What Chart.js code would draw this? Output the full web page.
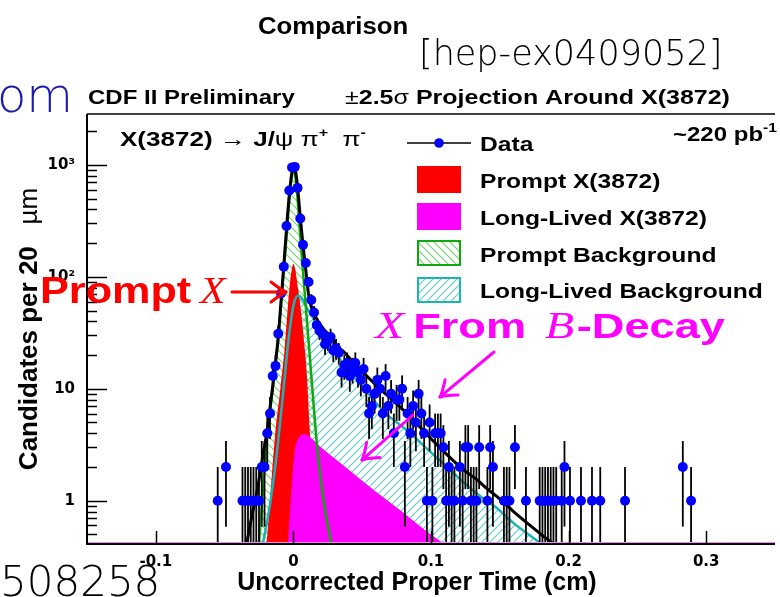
<!DOCTYPE html>
<html>
<head>
<meta charset="utf-8">
<script src="https://cdn.jsdelivr.net/npm/chart.js@4.4.1/dist/chart.umd.min.js"></script>
<style>
html,body{margin:0;padding:0;background:#fff;}
canvas{display:block;}
</style>
</head>
<body>
<canvas id="c" width="780" height="597"></canvas>
<script>
// ---------------- data ----------------
const xTicks = [-0.1, 0, 0.1, 0.2, 0.3];
const yTicks = [1, 10, 100, 1000];
const yTickLabels = ['1', '10', '10\u00B2', '10\u00B3'];

const dataTime = [
  -0.055, -0.049, -0.037, -0.035, -0.033, -0.031, -0.029, -0.027, -0.025, -0.023,
  -0.021, -0.019, -0.017, -0.015, -0.013, -0.011, -0.009, -0.007, -0.005, -0.003,
  -0.001, 0.001, 0.003, 0.005, 0.007, 0.009, 0.011, 0.013, 0.015, 0.017,
  0.019, 0.021, 0.023, 0.025, 0.027, 0.029, 0.031, 0.033, 0.035, 0.037,
  0.039, 0.041, 0.043, 0.045, 0.047, 0.049, 0.051, 0.053, 0.055, 0.057,
  0.059, 0.061, 0.063, 0.065, 0.067, 0.069, 0.071, 0.073, 0.075, 0.077,
  0.079, 0.081, 0.083, 0.085, 0.087, 0.089, 0.091, 0.093, 0.095, 0.097,
  0.099, 0.101, 0.103, 0.105, 0.107, 0.109, 0.111, 0.113, 0.115, 0.117,
  0.121, 0.123, 0.125, 0.127, 0.129, 0.131, 0.133, 0.135, 0.141, 0.143,
  0.145, 0.153, 0.155, 0.157, 0.161, 0.169, 0.179, 0.181, 0.183, 0.185,
  0.187, 0.189, 0.191, 0.195, 0.197, 0.201, 0.209, 0.217, 0.223, 0.241,
  0.283, 0.289
];
const dataCounts = [
  1, 2, 1, 1, 1, 1, 1, 1, 1, 2,
  2, 4, 6, 13, 16, 31, 71, 123, 285, 591,
  950, 960, 623, 332, 193, 133, 90, 62, 48, 37,
  33, 31, 25, 27, 29, 22, 23, 21, 14, 16,
  17, 13, 15, 17, 14, 12, 15, 10, 6, 7,
  9, 12, 10, 6, 13, 7, 9, 4, 8, 8,
  10, 2, 6, 4, 7, 5, 9, 6, 4, 1,
  5, 1, 4, 4, 4, 3, 1, 2, 1, 1,
  2, 1, 3, 3, 1, 1, 1, 3, 1, 3,
  2, 1, 1, 1, 3, 1, 1, 1, 1, 1,
  1, 1, 1, 1, 2, 1, 1, 1, 1, 1,
  2, 1
];

// total fit (black)
const totalT = [-0.040, -0.034, -0.030, -0.026, -0.022, -0.019, -0.016, -0.013, -0.011, -0.009, -0.007, -0.005, -0.003, -0.001, 0.000, 0.001, 0.003, 0.005, 0.007, 0.009, 0.011, 0.013, 0.015, 0.018, 0.022, 0.0274, 0.032, 0.0373, 0.043, 0.049, 0.055, 0.0613, 0.067, 0.0733, 0.079, 0.085, 0.095, 0.105, 0.115, 0.125, 0.1334, 0.140, 0.1478, 0.160, 0.170, 0.180, 0.189, 0.200];
const totalV = [0.15, 0.41, 0.75, 1.3, 2.6, 4.3, 8.5, 17, 29, 60, 125, 270, 540, 880, 1000, 960, 640, 340, 190, 115, 70, 54, 47, 40, 34, 29, 24, 21, 17.5, 14.8, 12.4, 10.4, 9.0, 7.7, 6.6, 5.65, 4.15, 3.1, 2.35, 1.83, 1.54, 1.3, 1.09, 0.8, 0.63, 0.5, 0.41, 0.32];

// prompt background (green)
const promptBgT = [-0.035, -0.0252, -0.022, -0.0192, -0.015, -0.0115, -0.008, -0.005, -0.003, -0.001, 0.000, 0.001, 0.003, 0.005, 0.007, 0.009, 0.011, 0.0135, 0.0168, 0.020, 0.024, 0.0276, 0.035];
const promptBgV = [0.1, 0.41, 1.3, 3.5, 10, 25, 80, 230, 480, 800, 880, 850, 500, 230, 110, 55, 27, 11, 3.5, 1.5, 0.7, 0.41, 0.1];

// long-lived background (cyan)
const llBgT = [-0.030, -0.0216, -0.018, -0.0132, -0.0072, -0.0036, 0.000, 0.0035, 0.007, 0.010, 0.0144, 0.0204, 0.026, 0.0324, 0.040, 0.050, 0.060, 0.070, 0.080, 0.0901, 0.100, 0.110, 0.120, 0.130, 0.140, 0.1478, 0.160, 0.1802, 0.190];
const llBgV = [0.1, 0.45, 0.78, 2.0, 9.8, 27, 55, 68, 62, 52, 42.6, 29, 23.5, 19.4, 14.5, 10.5, 7.5, 5.6, 4.5, 3.5, 2.7, 2.1, 1.6, 1.25, 1.0, 0.86, 0.63, 0.41, 0.32];

// prompt X(3872) (red)
const promptXT = [-0.025, -0.0195, -0.016, -0.0132, -0.0095, -0.0065, -0.003, 0.000, 0.0036, 0.0084, 0.010, 0.012, 0.016, 0.020, 0.025];
const promptXV = [0.1, 0.41, 1.5, 4, 10, 22, 76, 130, 76, 22, 12, 4, 1.2, 0.41, 0.1];

// long-lived X(3872) (magenta)
const llXT = [-0.010, -0.004, -0.001, 0.001, 0.003, 0.006, 0.008, 0.012, 0.020, 0.040, 0.060, 0.080, 0.0996, 0.1096, 0.130];
const llXV = [0.05, 0.41, 1.5, 2.8, 3.5, 3.9, 3.95, 3.7, 3.0, 1.9, 1.2, 0.78, 0.5, 0.41, 0.26];

// ---------------- helpers ----------------
const SANS = '"Liberation Sans", Arial, Helvetica, sans-serif';
const SERIF = '"Liberation Serif", "Times New Roman", serif';
const LIGHT = '"DejaVu Sans", sans-serif';

function pairs(t, v) { return t.map((x, i) => ({x: x, y: v[i]})); }

function hatch(color, dir) {
  const s = 8;
  const c = document.createElement('canvas');
  c.width = s; c.height = s;
  const g = c.getContext('2d');
  g.strokeStyle = color; g.lineWidth = 1.1;
  g.beginPath();
  if (dir > 0) { // "/"
    g.moveTo(0, s); g.lineTo(s, 0);
    g.moveTo(-2, 2); g.lineTo(2, -2);
    g.moveTo(s - 2, s + 2); g.lineTo(s + 2, s - 2);
  } else { // "\"
    g.moveTo(0, 0); g.lineTo(s, s);
    g.moveTo(-2, s - 2); g.lineTo(2, s + 2);
    g.moveTo(s - 2, -2); g.lineTo(s + 2, 2);
  }
  g.stroke();
  return document.getElementById('c').getContext('2d').createPattern(c, 'repeat');
}
const greenHatch = hatch('#6fd46f', -1);
const cyanHatch = hatch('#5ccccc', 1);

function rich(ctx, segs, x, y, sx, align) {
  sx = sx || 1; align = align || 'left';
  ctx.save();
  ctx.textBaseline = 'alphabetic'; ctx.textAlign = 'left';
  let w = 0;
  for (const s of segs) { ctx.font = s.f; w += ctx.measureText(s.t).width + (s.gap || 0); }
  ctx.translate(x, y); ctx.scale(sx, 1);
  let cx = align === 'center' ? -w / 2 : (align === 'right' ? -w : 0);
  for (const s of segs) {
    ctx.font = s.f; ctx.fillStyle = s.c || '#000';
    ctx.fillText(s.t, cx, s.dy || 0);
    cx += ctx.measureText(s.t).width + (s.gap || 0);
  }
  ctx.restore();
}

function arrow(ctx, x1, y1, x2, y2, color, lw) {
  const a = Math.atan2(y2 - y1, x2 - x1);
  const dx = Math.cos(a), dy = Math.sin(a);
  const px = -dy, py = dx;
  ctx.save();
  ctx.strokeStyle = color; ctx.lineWidth = lw; ctx.lineCap = 'round';
  ctx.beginPath(); ctx.moveTo(x1, y1); ctx.lineTo(x2 - dx * 2, y2 - dy * 2); ctx.stroke();
  const L = 15, W = 10;
  for (const sgn of [1, -1]) {
    const bx = x2 - dx * L + px * W * sgn, by = y2 - dy * L + py * W * sgn;
    const cx = x2 - dx * 4 + px * 1.5 * sgn, cy = y2 - dy * 4 + py * 1.5 * sgn;
    ctx.beginPath(); ctx.moveTo(bx, by); ctx.quadraticCurveTo(cx, cy, x2, y2); ctx.stroke();
  }
  ctx.restore();
}

// ---------------- plugins ----------------
const errorBars = {
  id: 'errorBars',
  beforeDatasetDraw(chart, args) {
    if (args.index !== 0) return;
    const ctx = chart.ctx, xs = chart.scales.x, ys = chart.scales.y, a = chart.chartArea;
    ctx.save();
    ctx.beginPath(); ctx.rect(a.left, a.top, a.right - a.left, a.bottom - a.top); ctx.clip();
    ctx.strokeStyle = '#000'; ctx.lineWidth = 1.8;
    for (let i = 0; i < dataTime.length; i++) {
      const n = dataCounts[i], e = Math.sqrt(n);
      const px = xs.getPixelForValue(dataTime[i]);
      const top = ys.getPixelForValue(n + e);
      const bot = (n - e) > 0 ? ys.getPixelForValue(n - e) : a.bottom;
      ctx.beginPath(); ctx.moveTo(px, top); ctx.lineTo(px, bot); ctx.stroke();
    }
    ctx.restore();
  }
};

const decor = {
  id: 'decor',
  afterDraw(chart) {
    const ctx = chart.ctx, a = chart.chartArea, xs = chart.scales.x, ys = chart.scales.y;
    ctx.save();
    // faint pink baseline of the fitted components
    ctx.strokeStyle = '#ff80ff'; ctx.lineWidth = 1;
    ctx.beginPath(); ctx.moveTo(a.left, a.bottom - 1.5); ctx.lineTo(a.right, a.bottom - 1.5); ctx.stroke();
    // frame
    ctx.strokeStyle = '#000';
    ctx.lineWidth = 1.5;
    ctx.beginPath(); ctx.moveTo(a.left, a.top); ctx.lineTo(a.right, a.top); ctx.stroke();
    ctx.lineWidth = 2;
    ctx.beginPath(); ctx.moveTo(a.left, a.top); ctx.lineTo(a.left, a.bottom); ctx.lineTo(a.right, a.bottom); ctx.stroke();
    // y ticks (log), inside
    ctx.lineWidth = 1.5;
    for (let d = -1; d <= 3; d++) {
      for (let m = 1; m <= 9; m++) {
        const v = m * Math.pow(10, d);
        if (v < ys.min || v > ys.max) continue;
        const py = Math.round(ys.getPixelForValue(v)) + 0.5;
        const len = m === 1 ? 20 : 10;
        ctx.beginPath(); ctx.moveTo(a.left, py); ctx.lineTo(a.left + len, py); ctx.stroke();
      }
    }
    // x ticks, inside
    for (const v of xTicks) {
      const px = Math.round(xs.getPixelForValue(v)) + 0.5;
      ctx.beginPath(); ctx.moveTo(px, a.bottom); ctx.lineTo(px, a.bottom - 13); ctx.stroke();
    }
    ctx.restore();

    // axis titles
    rich(ctx, [{t: 'Uncorrected Proper Time (cm)', f: 'bold 25px ' + SANS}], 417, 590, 1, 'center');
    ctx.save();
    ctx.translate(37, 329); ctx.rotate(-Math.PI / 2);
    rich(ctx, [{t: 'Candidates per 20   ', f: 'bold 26px ' + SANS}, {t: '\u00B5m', f: '26px ' + SANS}], 0, 0, 1, 'center');
    ctx.restore();

    // header texts
    rich(ctx, [{t: 'Comparison', f: 'bold 23px ' + SANS}], 258, 34, 1.12);
    rich(ctx, [{t: '[hep-ex0409052]', f: '200 35px ' + LIGHT}], 419, 65, 1);
    rich(ctx, [{t: 'om', f: '200 48px ' + LIGHT, c: '#1c1ca8'}], -3, 112, 1);
    rich(ctx, [{t: '508258', f: '200 42px ' + LIGHT}], 0, 596, 1);
    rich(ctx, [{t: 'CDF II Preliminary', f: 'bold 20px ' + SANS}], 88, 104, 1.2);
    rich(ctx, [
      {t: '\u00B1', f: '20.5px ' + SANS},
      {t: '2.5', f: 'bold 20.5px ' + SANS},
      {t: '\u03C3', f: '20.5px ' + SANS},
      {t: ' Projection Around X(3872)', f: 'bold 20.5px ' + SANS}
    ], 345, 104, 1.22);
    rich(ctx, [
      {t: 'X(3872) ', f: 'bold 21px ' + SANS},
      {t: '\u2192', f: '21px ' + SANS},
      {t: ' J/', f: 'bold 21px ' + SANS},
      {t: '\u03C8 \u03C0', f: '21px ' + SANS},
      {t: '+', f: 'bold 13px ' + SANS, dy: -9},
      {t: '  \u03C0', f: '21px ' + SANS},
      {t: '-', f: 'bold 13px ' + SANS, dy: -9}
    ], 120, 146, 1.24);
    rich(ctx, [
      {t: '~220 pb', f: 'bold 20px ' + SANS},
      {t: '-1', f: 'bold 13px ' + SANS, dy: -9}
    ], 673, 141, 1.2);

    // legend
    ctx.save();
    ctx.strokeStyle = '#000'; ctx.lineWidth = 1.5;
    ctx.beginPath(); ctx.moveTo(407, 143); ctx.lineTo(471, 143); ctx.stroke();
    ctx.fillStyle = '#0000ff';
    ctx.beginPath(); ctx.arc(439, 143, 4.8, 0, Math.PI * 2); ctx.fill();
    ctx.fillStyle = '#ff0000'; ctx.fillRect(417, 166, 44, 27);
    ctx.fillStyle = '#ff00ff'; ctx.fillRect(417, 203, 44, 27);
    ctx.fillStyle = greenHatch; ctx.fillRect(417, 240, 44, 26);
    ctx.strokeStyle = '#10a810'; ctx.lineWidth = 2; ctx.strokeRect(418, 241, 42, 24);
    ctx.fillStyle = cyanHatch; ctx.fillRect(417, 277, 44, 26);
    ctx.strokeStyle = '#1ab4b4'; ctx.lineWidth = 2; ctx.strokeRect(418, 278, 42, 24);
    ctx.restore();
    const lf = 'bold 20.5px ' + SANS;
    rich(ctx, [{t: 'Data', f: lf}], 480, 151, 1.2);
    rich(ctx, [{t: 'Prompt X(3872)', f: lf}], 480, 188, 1.2);
    rich(ctx, [{t: 'Long-Lived X(3872)', f: lf}], 480, 225, 1.2);
    rich(ctx, [{t: 'Prompt Background', f: lf}], 480, 262, 1.2);
    rich(ctx, [{t: 'Long-Lived Background', f: lf}], 480, 298, 1.2);

    // annotations
    rich(ctx, [{t: 'Prompt', f: 'bold 36px ' + SANS, c: '#ff0000'}], 40, 303, 1.2);
    rich(ctx, [{t: 'X', f: 'italic 38px ' + SERIF, c: '#ff0000'}], 200, 303, 1.1);
    arrow(ctx, 232, 292, 286, 292, '#ff0000', 3);

    rich(ctx, [
      {t: 'X', f: 'italic 37px ' + SERIF, c: '#ff00ff', gap: 7},
      {t: 'From ', f: 'bold 35px ' + SANS, c: '#ff00ff', gap: 5},
      {t: 'B', f: 'italic 37px ' + SERIF, c: '#ff00ff', gap: 2},
      {t: '-Decay', f: 'bold 35px ' + SANS, c: '#ff00ff'}
    ], 375, 338, 1.29);
    arrow(ctx, 494, 352, 440, 397, '#ff00ff', 3);
    arrow(ctx, 413, 415, 362, 460, '#ff00ff', 3);
  }
};

// ---------------- chart ----------------
const noLine = 'rgba(0,0,0,0)';
new Chart(document.getElementById('c'), {
  type: 'line',
  data: {
    datasets: [
      {label: 'Data', data: pairs(dataTime, dataCounts), showLine: false, pointRadius: 5,
       pointBackgroundColor: '#0000ff', pointBorderWidth: 0, pointBorderColor: '#0000ff'},
      {label: 'Total', data: pairs(totalT, totalV), borderColor: '#000', borderWidth: 3,
       pointRadius: 0, fill: false, cubicInterpolationMode: 'monotone'},
      {label: 'Prompt Background line', data: pairs(promptBgT, promptBgV), borderColor: '#10a810', borderWidth: 2.5,
       pointRadius: 0, fill: false, cubicInterpolationMode: 'monotone'},
      {label: 'Long-Lived Background line', data: pairs(llBgT, llBgV), borderColor: '#1ab4b4', borderWidth: 2.5,
       pointRadius: 0, fill: false, cubicInterpolationMode: 'monotone'},
      {label: 'Long-Lived X(3872)', data: pairs(llXT, llXV), borderColor: noLine, borderWidth: 0,
       backgroundColor: '#ff00ff', pointRadius: 0, fill: 'start', cubicInterpolationMode: 'monotone'},
      {label: 'Prompt X(3872)', data: pairs(promptXT, promptXV), borderColor: noLine, borderWidth: 0,
       backgroundColor: '#ff0000', pointRadius: 0, fill: 'start', cubicInterpolationMode: 'monotone'},
      {label: 'Prompt Background', data: pairs(promptBgT, promptBgV), borderColor: noLine, borderWidth: 0,
       backgroundColor: greenHatch, pointRadius: 0, fill: 'start', cubicInterpolationMode: 'monotone'},
      {label: 'Long-Lived Background', data: pairs(llBgT, llBgV), borderColor: noLine, borderWidth: 0,
       backgroundColor: cyanHatch, pointRadius: 0, fill: 'start', cubicInterpolationMode: 'monotone'}
    ]
  },
  options: {
    responsive: false,
    animation: false,
    devicePixelRatio: 1,
    events: [],
    layout: {padding: {top: 114, left: 0, right: 0, bottom: 0}},
    plugins: {
      legend: {display: false},
      tooltip: {enabled: false},
      filler: {drawTime: 'beforeDatasetsDraw'}
    },
    scales: {
      x: {
        type: 'linear', min: -0.15, max: 0.35,
        afterBuildTicks: s => { s.ticks = xTicks.map(v => ({value: v})); },
        afterFit: s => { s.height = 53; },
        grid: {display: false, drawTicks: false},
        border: {display: false},
        ticks: {
          padding: 9, color: '#000',
          font: {family: '"DejaVu Sans", sans-serif', weight: 'bold', size: 15},
          callback: v => (v === 0 ? '0' : String(Math.round(v * 10) / 10))
        }
      },
      y: {
        type: 'logarithmic', min: 0.41, max: 2850,
        afterBuildTicks: s => { s.ticks = yTicks.map(v => ({value: v})); },
        afterFit: s => { s.width = 87; },
        grid: {display: false, drawTicks: false},
        border: {display: false},
        ticks: {
          padding: 12, color: '#000',
          font: {family: '"DejaVu Sans", sans-serif', weight: 'bold', size: 15},
          callback: v => { const i = yTicks.indexOf(v); return i >= 0 ? yTickLabels[i] : ''; }
        }
      }
    }
  },
  plugins: [errorBars, decor]
});
</script>
</body>
</html>
